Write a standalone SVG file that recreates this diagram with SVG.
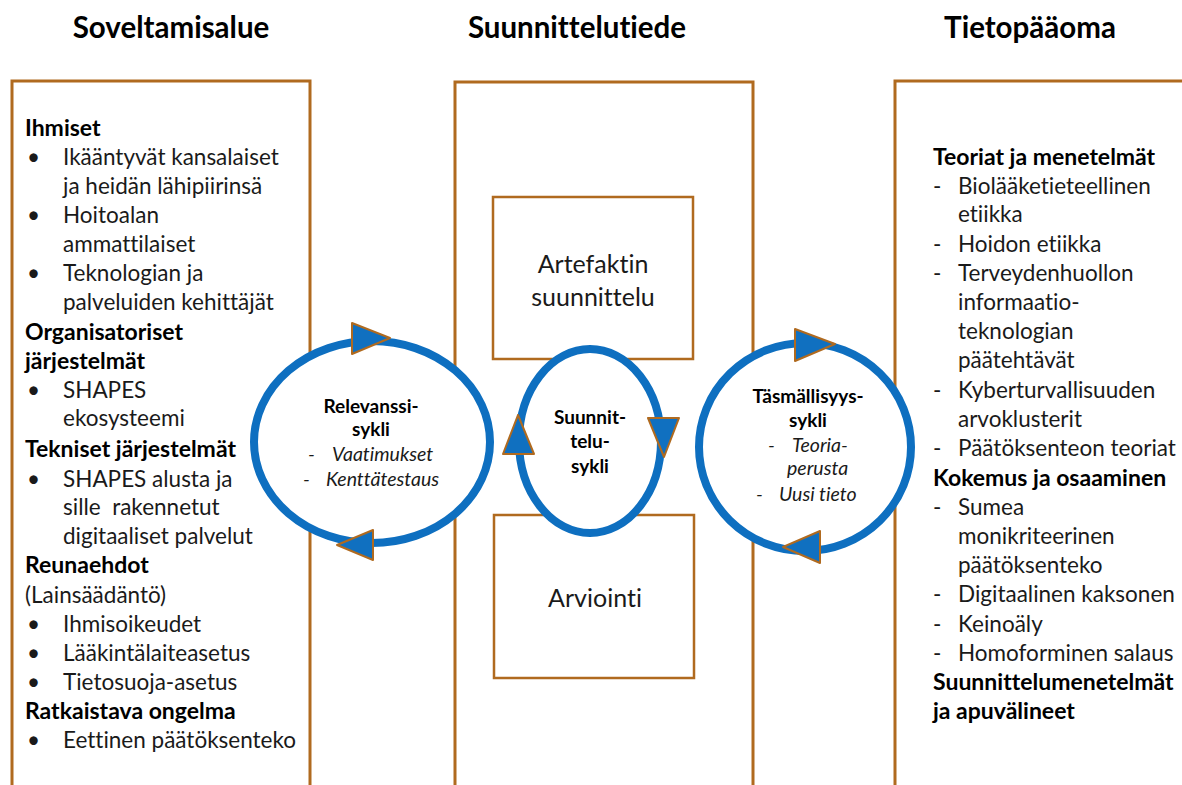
<svg xmlns="http://www.w3.org/2000/svg" width="1182" height="785" viewBox="0 0 1182 785">
<style>
.panel{fill:#fff;stroke:#B06A1F;stroke-width:3}
.box{fill:#fff;stroke:#B06A1F;stroke-width:2.5}
.ring{fill:#fff;stroke:#0E6FC0;stroke-width:8}
.arr{fill:#1070C0;stroke:#B06A1F;stroke-width:2;stroke-linejoin:round}
text{font-family:Lato,"Liberation Sans",sans-serif;fill:#1a1a1a;font-variant-ligatures:none;font-feature-settings:"liga" 0,"clig" 0}
.h{font-size:29.5px;font-weight:bold;text-anchor:middle;fill:#000}
.t{font-size:22.5px}
.b{font-size:23px;font-weight:bold;fill:#000}
.cb{font-size:19px;font-weight:bold;text-anchor:middle;fill:#000}
.ci{font-size:19.5px;font-style:italic}
.big{font-size:25px;text-anchor:middle}
</style>
<g id="headers">
<text class="h" x="171" y="38">Soveltamisalue</text>
<text class="h" x="577" y="38">Suunnittelutiede</text>
<text class="h" x="1030" y="38">Tietopääoma</text>
</g>
<g id="panel-soveltamisalue">
<rect class="panel" x="12" y="81" width="298" height="720"/>
<text class="b" x="25" y="136">Ihmiset</text>
<text class="t" x="27" y="165">•</text><text class="t" x="63" y="165">Ikääntyvät kansalaiset</text>
<text class="t" x="63" y="194">ja heidän lähipiirinsä</text>
<text class="t" x="27" y="223">•</text><text class="t" x="63" y="223">Hoitoalan</text>
<text class="t" x="63" y="252">ammattilaiset</text>
<text class="t" x="27" y="281">•</text><text class="t" x="63" y="281">Teknologian ja</text>
<text class="t" x="63" y="310">palveluiden kehittäjät</text>
<text class="b" x="25" y="340">Organisatoriset</text>
<text class="b" x="25" y="369">järjestelmät</text>
<text class="t" x="27" y="398">•</text><text class="t" x="63" y="398">SHAPES</text>
<text class="t" x="63" y="426">ekosysteemi</text>
<text class="b" x="25" y="457">Tekniset järjestelmät</text>
<text class="t" x="27" y="487">•</text><text class="t" x="63" y="487">SHAPES alusta ja</text>
<text class="t" x="63" y="515" style="white-space:pre">sille  rakennetut</text>
<text class="t" x="63" y="544">digitaaliset palvelut</text>
<text class="b" x="25" y="573">Reunaehdot</text>
<text class="t" x="25" y="603">(Lainsäädäntö)</text>
<text class="t" x="27" y="632">•</text><text class="t" x="63" y="632">Ihmisoikeudet</text>
<text class="t" x="27" y="661">•</text><text class="t" x="63" y="661">Lääkintälaiteasetus</text>
<text class="t" x="27" y="690">•</text><text class="t" x="63" y="690">Tietosuoja-asetus</text>
<text class="b" x="25" y="719">Ratkaistava ongelma</text>
<text class="t" x="27" y="748">•</text><text class="t" x="63" y="748">Eettinen päätöksenteko</text>
</g>
<g id="panel-suunnittelutiede">
<rect class="panel" x="455" y="82" width="298" height="720"/>
</g>
<g id="panel-tietopaaoma">
<rect class="panel" x="895" y="81" width="300" height="720"/>
<text class="b" x="933" y="165">Teoriat ja menetelmät</text>
<text class="t" x="933" y="194">-</text><text class="t" x="958" y="194">Biolääketieteellinen</text>
<text class="t" x="958" y="222">etiikka</text>
<text class="t" x="933" y="252">-</text><text class="t" x="958" y="252">Hoidon etiikka</text>
<text class="t" x="933" y="281">-</text><text class="t" x="958" y="281">Terveydenhuollon</text>
<text class="t" x="958" y="310">informaatio-</text>
<text class="t" x="958" y="339">teknologian</text>
<text class="t" x="958" y="368">päätehtävät</text>
<text class="t" x="933" y="398">-</text><text class="t" x="958" y="398">Kyberturvallisuuden</text>
<text class="t" x="958" y="427">arvoklusterit</text>
<text class="t" x="933" y="456">-</text><text class="t" x="958" y="456">Päätöksenteon teoriat</text>
<text class="b" x="933" y="486">Kokemus ja osaaminen</text>
<text class="t" x="933" y="515">-</text><text class="t" x="958" y="515">Sumea</text>
<text class="t" x="958" y="544">monikriteerinen</text>
<text class="t" x="958" y="573">päätöksenteko</text>
<text class="t" x="933" y="602">-</text><text class="t" x="958" y="602">Digitaalinen kaksonen</text>
<text class="t" x="933" y="632">-</text><text class="t" x="958" y="632">Keinoäly</text>
<text class="t" x="933" y="661">-</text><text class="t" x="958" y="661">Homoforminen salaus</text>
<text class="b" x="933" y="690">Suunnittelumenetelmät</text>
<text class="b" x="933" y="719">ja apuvälineet</text>
</g>
<g id="artefaktin-suunnittelu">
<rect class="box" x="493" y="197" width="200" height="162"/>
<text class="big" x="593" y="273">Artefaktin</text>
<text class="big" x="593" y="306">suunnittelu</text>
</g>
<g id="arviointi">
<rect class="box" x="494" y="515" width="200" height="163"/>
<text class="big" x="595" y="607">Arviointi</text>
</g>
<g id="connectors">
<g id="relevanssi-sykli">
<ellipse class="ring" cx="372" cy="442" rx="118" ry="101"/>
<polygon class="arr" points="352,323 352,354 390,338"/>
<polygon class="arr" points="337,545 373,530 373,560"/>
</g>
<g id="suunnittelu-sykli">
<ellipse class="ring" cx="590" cy="441" rx="71" ry="92"/>
<polygon class="arr" points="648,418 679,418 664,457"/>
<polygon class="arr" points="503,454 534,454 518,415"/>
</g>
<g id="tasmallisyys-sykli">
<ellipse class="ring" cx="805" cy="447" rx="106" ry="104"/>
<polygon class="arr" points="795,329 795,361 835,344"/>
<polygon class="arr" points="783,547 820,531 820,563"/>
</g>
</g>
<g id="relevanssi-text">
<text class="cb" x="371" y="413">Relevanssi-</text>
<text class="cb" x="371" y="436">sykli</text>
<text class="ci" x="308" y="461">-</text><text class="ci" x="332" y="461">Vaatimukset</text>
<text class="ci" x="303" y="486">-</text><text class="ci" x="326" y="486">Kenttätestaus</text>
</g>
<g id="suunnittelu-text">
<text class="cb" x="590" y="424">Suunnit-</text>
<text class="cb" x="590" y="448">telu-</text>
<text class="cb" x="590" y="473">sykli</text>
</g>
<g id="tasmallisyys-text">
<text class="cb" x="808" y="403">Täsmällisyys-</text>
<text class="cb" x="808" y="427">sykli</text>
<text class="ci" x="768" y="452">-</text><text class="ci" x="792" y="452">Teoria-</text>
<text class="ci" x="787" y="475">perusta</text>
<text class="ci" x="756" y="501">-</text><text class="ci" x="779" y="501">Uusi tieto</text>
</g>
</svg>
